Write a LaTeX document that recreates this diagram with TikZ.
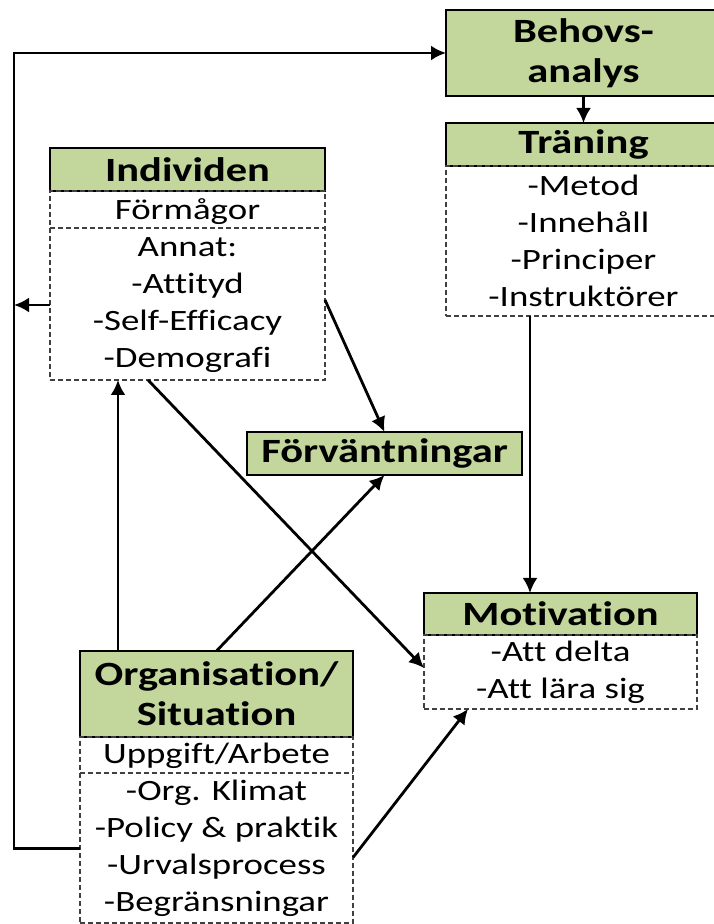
\documentclass[tikz,border=0pt]{standalone}
\usepackage{fontspec}
\setmainfont{Carlito}[FakeStretch=1.25, Ligatures=NoCommon]
\usetikzlibrary{
  positioning,
  arrows.meta
}
\definecolor{boxgreen}{HTML}{C3D69B}
\tikzset{>={Latex[length=15pt,width=15pt]}}
\newcommand{\bodyfont}{\fontsize{29.5}{37}\selectfont}
\newcommand{\headfont}{\fontsize{34}{40}\selectfont\bfseries}

\begin{document}
\begin{tikzpicture}[x=1pt, y=1pt,
  head/.style = {rectangle, draw, fill=boxgreen, line width=1.8pt, align=center, inner sep=0pt, outer sep=0pt, minimum width=275pt, minimum height=43pt, font=\headfont},
  body/.style = {rectangle, draw=black!75, dash pattern=on 5pt off 3pt, line width=1.4pt, align=center, inner sep=0pt, outer sep=0pt, minimum width=275pt, font=\bodyfont},
  sep/.style = {draw=black!75, dash pattern=on 5pt off 3pt, line width=1.4pt},
  link/.style = {->, line width=2.8pt}]
  \useasboundingbox (0,0) rectangle (713,924);

  % nodes
  \node[head, minimum height=86pt] (behovs) at (583.5,871) {Behovs-\\analys};
  \node[head, below=27pt of behovs] (trhead) {Träning};
  \node[body, below=0pt of trhead, minimum height=150pt] (trbody) {-Metod\\-Innehåll\\-Principer\\-Instruktörer};

  \node[head] (indhead) at (187.5,754.5) {Individen};
  \node[body, below=0pt of indhead, minimum height=189pt] (indbody) {Förmågor\\Annat:\\-Attityd\\-Self-Efficacy\\-Demografi};

  \node[head] (forv) at (384.5,470.5) {Förväntningar};

  \node[head, minimum width=273pt, minimum height=42pt] (mothead) at (560.5,310) {Motivation};
  \node[body, below=0pt of mothead, minimum width=273pt, minimum height=74pt] (motbody) {-Att delta\\-Att lära sig};

  \node[head, minimum width=273pt, minimum height=86pt] (orghead) at (216.5,230) {Organisation/\\Situation};
  \node[body, below=0pt of orghead, minimum width=273pt, minimum height=186pt] (orgbody) {Uppgift/Arbete\\-Org. Klimat\\-Policy \& praktik\\-Urvalsprocess\\-Begränsningar};

  \coordinate (loopx) at (14,0);
  \coordinate (indout) at ([yshift=-19.5pt]indbody.west);

  % separators
  \draw[sep] ([yshift=-37pt]indbody.north west) -- ([yshift=-37pt]indbody.north east);
  \draw[sep] ([yshift=-36pt]orgbody.north west) -- ([yshift=-36pt]orgbody.north east);

  % connections
  \draw[link] (behovs.south) -- (trhead.north);
  \draw[link] ([yshift=-18.5pt]orgbody.west) -| (loopx |- behovs.west) -- (behovs.west);
  \draw[link] (indout) -- (loopx |- indout);
  \draw[link] ([xshift=-53.5pt]trbody.south) -- ([xshift=-53.5pt]trbody.south |- mothead.north);
  \draw[link] ([yshift=-14.5pt]indbody.east) -- (forv.north);
  \draw[link] ([xshift=-39.5pt]indbody.south) -- ([yshift=4pt]motbody.west);
  \draw[link] ([xshift=-98.5pt]orghead.north) -- ([xshift=-98.5pt]orghead.north |- indbody.south);
  \draw[link] (orghead.north) -- (forv.south);
  \draw[link] ([yshift=-27.5pt]orgbody.east) -- ([xshift=-92.5pt]motbody.south);
\end{tikzpicture}
\end{document}
